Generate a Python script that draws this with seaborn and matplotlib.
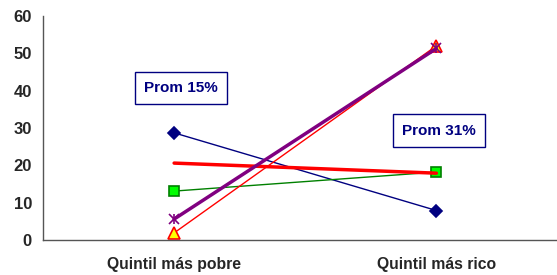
import numpy as np
import pandas as pd
import matplotlib
matplotlib.use("Agg")
import matplotlib.pyplot as plt
import seaborn as sns

# Data
categories = ["Quintil más pobre", "Quintil más rico"]
serie_azul = [28.7, 7.9]
serie_verde = [13.1, 18.2]
serie_roja = [20.6, 17.9]
serie_triangulo = [1.9, 52.0]
serie_morada = [5.6, 51.3]
promedios = ["Prom 15%", "Prom 31%"]

sns.set_style("white")
plt.rcParams['font.family'] = ['Liberation Sans', 'DejaVu Sans']

fig = plt.figure(figsize=(5.57, 2.75), dpi=100)
ax = fig.add_axes([43 / 557, 35 / 275, 1 - 43 / 557, 224 / 275])

x = np.arange(len(categories))

# series styles: (values, line color, lw, marker, marker face, marker edge, size)
series = [
    (serie_azul, "#000080", 1.0, "D", "#000080", "#000080", 6.5),
    (serie_verde, "#008000", 1.0, "s", "#00ff00", "#008000", 6.5),
    (serie_roja, "#ff0000", 2.5, None, None, None, 0),
    (serie_triangulo, "#ff0000", 1.0, "^", "#ffff00", "#ff0000", 9),
    (serie_morada, "#800080", 2.5, "x", "#800080", "#800080", 7.5),
]

for vals, color, lw, marker, mfc, mec, ms in series:
    df = pd.DataFrame({"x": x, "y": vals})
    sns.lineplot(data=df, x="x", y="y", ax=ax, color=color, lw=lw,
                 marker=marker, markerfacecolor=mfc, markeredgecolor=mec,
                 markersize=ms, markeredgewidth=1.2)
    if marker == "x":
        # add the vertical stroke to make it a star
        ax.plot(x, vals, ls="none", marker="|", color=color, markersize=ms, mew=1.2)

ax.set_xlim(-0.5, 1.46)
ax.set_ylim(0, 60)
ax.set_yticks(range(0, 61, 10))
ax.set_xticks(x)
ax.set_xticklabels(categories, fontsize=11.3, fontweight="bold")
ax.set_xticks([0.5], minor=True)
ax.tick_params(axis="x", which="major", length=0, pad=12)
ax.tick_params(axis="x", which="minor", length=4, direction="out", color="#555555")
ax.tick_params(axis="y", length=4, direction="out", labelsize=12, color="#555555", pad=4)
for lab in ax.get_yticklabels():
    lab.set_fontweight("bold")
ax.set_xlabel("")
ax.set_ylabel("")

for side in ["top", "right"]:
    ax.spines[side].set_visible(False)
for side in ["left", "bottom"]:
    ax.spines[side].set_color("#555555")
    ax.spines[side].set_linewidth(1.0)

box = dict(boxstyle="square,pad=0.6", fc="white", ec="#000080", lw=1.0)
ax.text(0.025, 40.8, promedios[0], color="#000080", fontsize=11, fontweight="bold",
        ha="center", va="center", bbox=box)
ax.text(1.01, 29.3, promedios[1], color="#000080", fontsize=11, fontweight="bold",
        ha="center", va="center", bbox=box)

fig.savefig("out.png", dpi=100)
